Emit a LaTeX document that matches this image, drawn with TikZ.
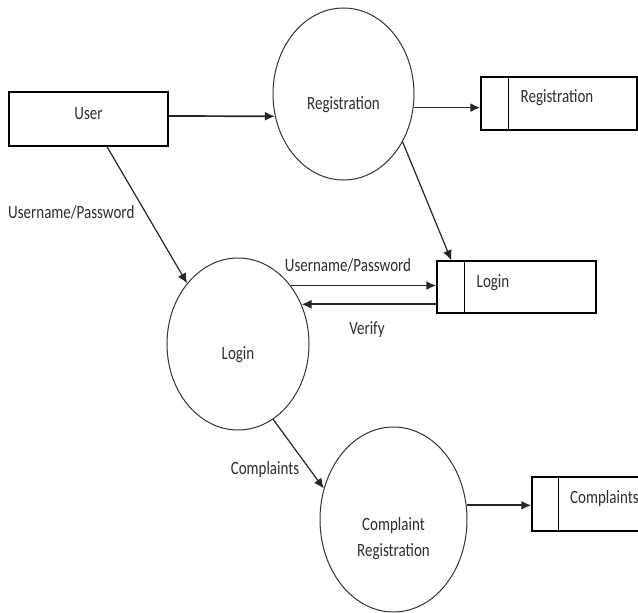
\documentclass[tikz,border=0pt]{standalone}
\usepackage{fontspec}
\setmainfont{Carlito}
\usetikzlibrary{shapes.geometric,arrows.meta}
\newcommand{\tallT}[1]{\scalebox{1}[1.25]{#1}}
\begin{document}
\begin{tikzpicture}[x=1pt,y=-1pt,
  proc/.style={ellipse, draw=black!80, line width=1pt, inner sep=0pt},
  entbox/.style={rectangle, draw=black, line width=1.4pt, inner sep=0pt},
  lbl/.style={font=\fontsize{15}{27}\selectfont, text=black!82, inner sep=0pt},
  flow/.style={draw=black!85, line width=1.2pt, -{Latex[length=10pt,width=9pt]}},
  hflow/.style={flow, line width=1.7pt}]
\clip (0,0) rectangle (638,613);
\fill[white] (0,0) rectangle (638,613);
% entities and processes
\node[entbox, minimum width=159pt, minimum height=54pt] (user) at (88.5,119) {};
\node[lbl] (userT) at (88.5,114) {\tallT{User}};
\node[proc, minimum width=141pt, minimum height=172pt] (reg) at (343.5,94) {};
\node[lbl] (regT) at (343.5,105) {\tallT{Registration}};
\node[entbox, minimum width=156pt, minimum height=53pt] (rstore) at (559,103.5) {};
\node[lbl] (rstoreT) at (557,98) {\tallT{Registration}};
\node[proc, minimum width=142pt, minimum height=172pt] (login) at (238,344) {};
\node[lbl] (loginT) at (238,355) {\tallT{Login}};
\node[entbox, minimum width=159pt, minimum height=52pt] (lstore) at (516.5,287) {};
\node[lbl] (lstoreT) at (493,283) {\tallT{Login}};
\node[proc, minimum width=147pt, minimum height=185pt] (comp) at (393.5,519.5) {};
\node[lbl] (compT1) at (393.5,525) {\tallT{Complaint}};
\node[lbl] (compT2) at (393.5,552) {\tallT{Registration}};
\node[entbox, minimum width=130pt, minimum height=54pt] (cstore) at (597,504) {};
\node[lbl, anchor=west] (cstoreT) at (570,498) {\tallT{Complaints}};
% store dividers
\draw[line width=1.3pt] ([xshift=28pt]rstore.north west) -- ([xshift=28pt]rstore.south west);
\draw[line width=1.3pt] ([xshift=28pt]lstore.north west) -- ([xshift=28pt]lstore.south west);
\draw[line width=1.3pt] ([xshift=27pt]cstore.north west) -- ([xshift=27pt]cstore.south west);
% flows
\draw[hflow] ([yshift=3pt]user.east) -- (reg.198);
\draw[hflow] (reg.-11) -- (reg.-11 -| rstore.west);
\draw[flow] (reg.-39) -- ([xshift=15pt]lstore.north west);
\draw[flow] ([xshift=18.5pt]user.south) -- (login.130);
\node[lbl, anchor=west] (upL) at (8,212) {\tallT{Username/Password}};
\draw[hflow] (login.48) -- (login.48 -| lstore.west);
\node[lbl] (upL2) at (348,265) {\tallT{Username/Password}};
\draw[hflow] (login.32 -| lstore.west) -- (login.32);
\node[lbl] (verL) at (367,330) {\tallT{Verify}};
\draw[flow] (login.-65) -- (comp.156);
\node[lbl] (compL) at (265,469) {\tallT{Complaints}};
\draw[hflow] (comp.11) -- (comp.11 -| cstore.west);
\end{tikzpicture}
\end{document}
